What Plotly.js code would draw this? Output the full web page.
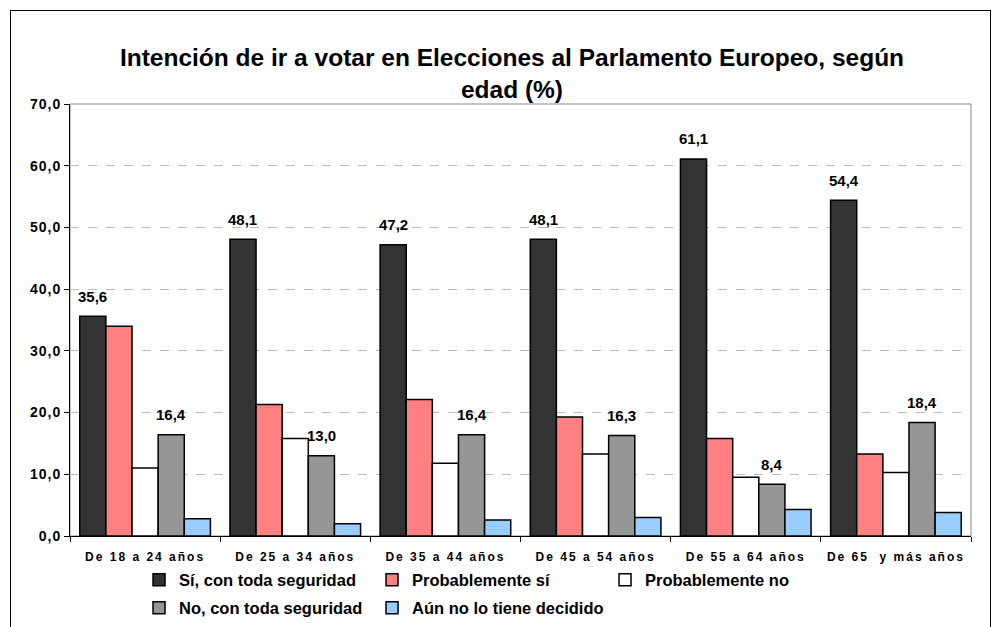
<!DOCTYPE html>
<html>
<head>
<meta charset="utf-8">
<script src="https://cdn.plot.ly/plotly-3.0.1.min.js"></script>
<style>
  body { margin: 0; overflow: hidden; background: #fff; }
  #chart { position: absolute; left: 0; top: 0; width: 999px; height: 627px; }
  #frame { position: absolute; left: 10px; top: 10px; width: 979px; height: 700px;
           border: 1px solid #000; pointer-events: none; }
  #chart .xtick text { letter-spacing: 2px; }
  #chart .ytick text { letter-spacing: 1px; }
</style>
</head>
<body>
<div id="chart"></div>
<div id="frame"></div>
<script>
// Intención de ir a votar, según edad (%)
const categories = ['De 18 a 24 años', 'De 25 a 34 años', 'De 35 a 44 años',
                    'De 45 a 54 años', 'De 55 a 64 años', 'De 65  y más años'];

const seguroSi   = [35.6, 48.1, 47.2, 48.1, 61.1, 54.4];
const probSi     = [34.0, 21.3, 22.1, 19.3, 15.8, 13.3];
const probNo     = [11.0, 15.8, 11.8, 13.3, 9.5, 10.3];
const seguroNo   = [16.4, 13.0, 16.4, 16.3, 8.4, 18.4];
const noDecidido = [2.8, 2.0, 2.6, 3.0, 4.3, 3.8];

const seriesNames = ['Sí, con toda seguridad', 'Probablemente sí', 'Probablemente no',
                     'No, con toda seguridad', 'Aún no lo tiene decidido'];
const seriesColors = ['#333333', '#FF8080', '#FFFFFF', '#969696', '#99CCFF'];
const labelled = [true, false, false, true, false];
const legendRow = ['legend', 'legend', 'legend', 'legend2', 'legend2'];

const fontFamily = '"Liberation Sans", Arial, sans-serif';

const allSeries = [seguroSi, probSi, probNo, seguroNo, noDecidido];

const W = 999, H = 627;
const margin = { l: 70, r: 28, t: 104, b: 91 };
const bargap = 0.13;

const traces = allSeries.map((vals, i) => ({
    x: categories,
    y: vals,
    name: seriesNames[i],
    type: 'bar',
    legend: legendRow[i],
    marker: { color: seriesColors[i], line: { color: '#000', width: 1.5 } },
    hoverinfo: 'y'
}));

// value labels above the black and grey bars
const catWidth = (W - margin.l - margin.r) / categories.length;
const barWidth = catWidth * (1 - bargap) / allSeries.length;
const annotations = [];
allSeries.forEach((vals, i) => {
    if (!labelled[i]) return;
    vals.forEach((v, j) => {
        annotations.push({
            x: categories[j],
            y: v,
            xref: 'x',
            yref: 'y',
            text: v.toFixed(1).replace('.', ','),
            showarrow: false,
            xshift: (i - (allSeries.length - 1) / 2) * barWidth,
            yshift: 20,
            yanchor: 'middle',
            font: { family: fontFamily, size: 15, weight: 'bold', color: '#000' }
        });
    });
});

const legendBase = {
    orientation: 'h',
    x: 0.0766,
    xanchor: 'left',
    yref: 'container',
    yanchor: 'middle',
    entrywidth: 188,
    entrywidthmode: 'pixels',
    traceorder: 'normal',
    font: { family: fontFamily, size: 16.5, weight: 'bold' },
    itemwidth: 30,
    bgcolor: 'rgba(0,0,0,0)'
};

const layout = {
    width: W,
    height: H,
    margin: margin,
    paper_bgcolor: '#fff',
    plot_bgcolor: '#fff',
    separators: ',.',
    barmode: 'group',
    bargap: bargap,
    bargroupgap: 0,
    font: { family: fontFamily, color: '#000' },
    title: {
        text: 'Intención de ir a votar en Elecciones al Parlamento Europeo, según<br>edad (%)',
        font: { family: fontFamily, size: 24.5, weight: 'bold', color: '#000' },
        x: 0.5125,
        xanchor: 'center',
        y: 0.895,
        yanchor: 'middle'
    },
    xaxis: {
        type: 'category',
        showline: true,
        linecolor: '#000',
        linewidth: 1,
        ticks: 'outside',
        tickson: 'boundaries',
        ticklen: 5,
        tickcolor: '#000',
        ticklabelstandoff: 10,
        tickfont: { family: fontFamily, size: 12, weight: 'bold' },
        showgrid: false
    },
    yaxis: {
        range: [0, 70],
        dtick: 10,
        tickformat: '.1f',
        showline: true,
        linecolor: '#000',
        linewidth: 1,
        ticks: 'outside',
        ticklen: 5,
        tickcolor: '#000',
        tickfont: { family: fontFamily, size: 14, weight: 'bold' },
        showgrid: true,
        gridcolor: '#BBBBBB',
        griddash: 'dash',
        zeroline: false
    },
    shapes: [{
        type: 'rect', xref: 'paper', yref: 'paper',
        x0: 0, x1: 1, y0: 0, y1: 1,
        line: { color: '#888', width: 1 },
        layer: 'below'
    }],
    annotations: annotations,
    showlegend: true,
    legend: Object.assign({}, legendBase, { y: 1 - 580 / H }),
    legend2: Object.assign({}, legendBase, { y: 1 - 608 / H })
};

Plotly.newPlot('chart', traces, layout, { displayModeBar: false, staticPlot: true });
</script>
</body>
</html>
